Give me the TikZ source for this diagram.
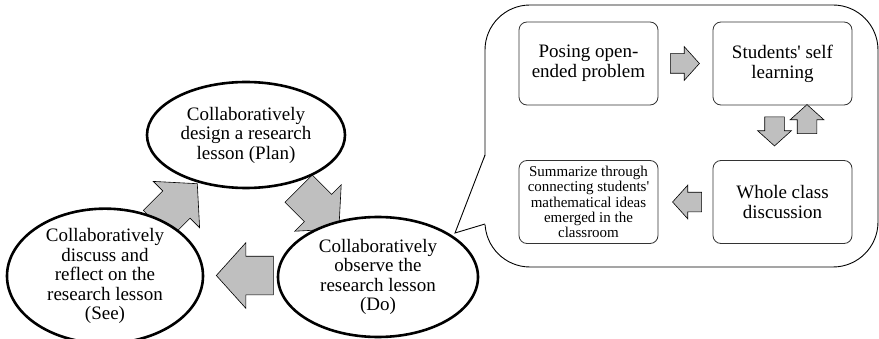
\documentclass[tikz,border=0pt]{standalone}
\usepackage{fontspec}
\setmainfont{Liberation Serif}
\usetikzlibrary{shapes.geometric, shapes.arrows}

\begin{document}
\begin{tikzpicture}[x=1pt, y=1pt,
  ph/.style={ellipse, draw, line width=2.6pt, fill=white, align=center, inner sep=0pt, font=\fontsize{19}{19.5}\selectfont},
  bx/.style={rectangle, rounded corners=8pt, draw=black!80, line width=0.8pt, fill=white, align=center, minimum width=139pt, minimum height=83pt, font=\fontsize{19}{20}\selectfont},
  ba/.style={single arrow, draw, fill=black!25, line width=0.6pt, inner xsep=0pt, inner ysep=19pt, minimum height=57pt, single arrow head extend=13.5pt, single arrow tip angle=96},
  sa/.style={single arrow, draw, fill=black!25, line width=0.6pt, inner xsep=0pt, inner ysep=9.5pt, minimum height=29pt, single arrow head extend=7pt, single arrow tip angle=96}]
\useasboundingbox (0,0) rectangle (879,338);

% ---- big arrows between the phases (ellipses are drawn on top) ----
\node[ba, rotate=45] (a1) at (171,128) {};
\node[ba, rotate=-45] (a2) at (312.6,135.4) {};
\node[ba, rotate=180] (a3) at (253.5,62.5) {};

% ---- Plan, Do, See ----
\node[ph, minimum width=198pt, minimum height=106pt] (plan) at (246,203) {Collaboratively\\design a research\\lesson (Plan)};
\node[ph, minimum width=200pt, minimum height=120pt] (do) at (378,61) {Collaboratively\\observe the\\research lesson\\(Do)};
\node[ph, minimum width=196pt, minimum height=122pt] (see) at (105,62) {Collaboratively\\discuss and\\reflect on the\\research lesson\\(See)};

% ---- callout with the lesson steps ----
\node[draw, rounded corners=45pt, line width=0.9pt, minimum width=393pt, minimum height=262pt] (bubble) at (681.5,202) {};
\coordinate (tip) at (455,105);
\coordinate (pa) at (485,183);
\coordinate (pb) at (485,114);
\fill[white] (486,183.5) -- (tip) -- (486,113.5) -- cycle;
\draw[line width=0.9pt] (pa) -- (tip) -- (pb);

\node[bx] (pose) at (588.5,274.5) {Posing open-\\ended problem};
\node[bx] (self) at (782.5,274.5) {Students\textquotesingle\ self\\learning};
\node[bx] (whole) at (782.5,136) {Whole class\\discussion};
\node[bx, font=\fontsize{15}{15.2}\selectfont] (summ) at (588.5,136) {Summarize through\\connecting students\textquotesingle\\mathematical ideas\\emerged in the\\classroom};

\node[sa] (s1) at (680.5,274.5) {};
\node[sa, rotate=-90] (s2) at (774.5,211) {};
\node[sa, rotate=90] (s3) at (807,214.5) {};
\node[sa, rotate=180] (s4) at (691.5,136) {};
\end{tikzpicture}
\end{document}
